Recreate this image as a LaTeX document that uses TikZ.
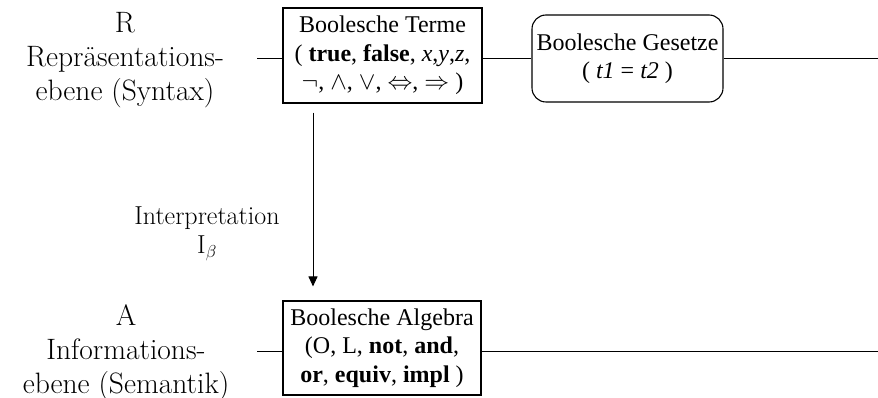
\documentclass[tikz,border=0pt]{standalone}
\usepackage{fontspec}
\newfontfamily\boxfont{Liberation Serif}
\usetikzlibrary{arrows.meta}
\begin{document}
\begin{tikzpicture}[x=1pt,y=-1pt,
  lbl/.style={align=center, font=\fontsize{29.5}{34}\selectfont, inner sep=0pt},
  ilbl/.style={align=center, font=\fontsize{26}{29}\selectfont, inner sep=0pt},
  boxn/.style={draw, line width=1.1pt, align=center, inner sep=0pt,
    font=\boxfont\fontsize{24}{28.5}\selectfont},
  conn/.style={line width=1pt}]
\useasboundingbox (0,0) rectangle (878,398);

% left labels
\node[lbl] (rlab) at (125,60) {R\\Repräsentations-\\ebene (Syntax)};
\node[lbl] (alab) at (126,353) {A\\Informations-\\ebene (Semantik)};

% boxes
\node[boxn, minimum width=199pt, minimum height=95pt] (terme) at (382.5,55.5)
  {Boolesche Terme\\( \textbf{true}, \textbf{false}, \textit{x},\textit{y},\textit{z},\\
   $\neg$, $\wedge$, $\vee$, $\Leftrightarrow$, $\Rightarrow$ )};
\node[boxn, rounded corners=14pt, minimum width=191pt, minimum height=87pt] (gesetze) at (627.5,58.5)
  {Boolesche Gesetze\\( \textit{t1} = \textit{t2} )};
\node[boxn, minimum width=198pt, minimum height=94pt] (algebra) at (382,348)
  {Boolesche Algebra\\(O, L, \textbf{not}, \textbf{and},\\ \textbf{or}, \textbf{equiv}, \textbf{impl} )};

% interpretation label
\node[ilbl] (interp) at (207,234) {Interpretation\\I$_\beta$};

% horizontal lines
\coordinate (l1) at (257,59);
\coordinate (e1) at (878,59);
\coordinate (l2) at (257,351);
\coordinate (e2) at (878,351);
\draw[conn] (l1) -- (l1 -| terme.west);
\draw[conn] (l1 -| terme.east) -- (l1 -| gesetze.west);
\draw[conn] (l1 -| gesetze.east) -- (e1);
\draw[conn] (l2) -- (l2 -| algebra.west);
\draw[conn] (l2 -| algebra.east) -- (e2);

% interpretation arrow
\coordinate (ax) at (313,0);
\draw[conn, -{Triangle[length=10pt,width=9pt]}, shorten <=9pt, shorten >=14pt]
  (terme.south -| ax) -- (algebra.north -| ax);
\end{tikzpicture}
\end{document}
